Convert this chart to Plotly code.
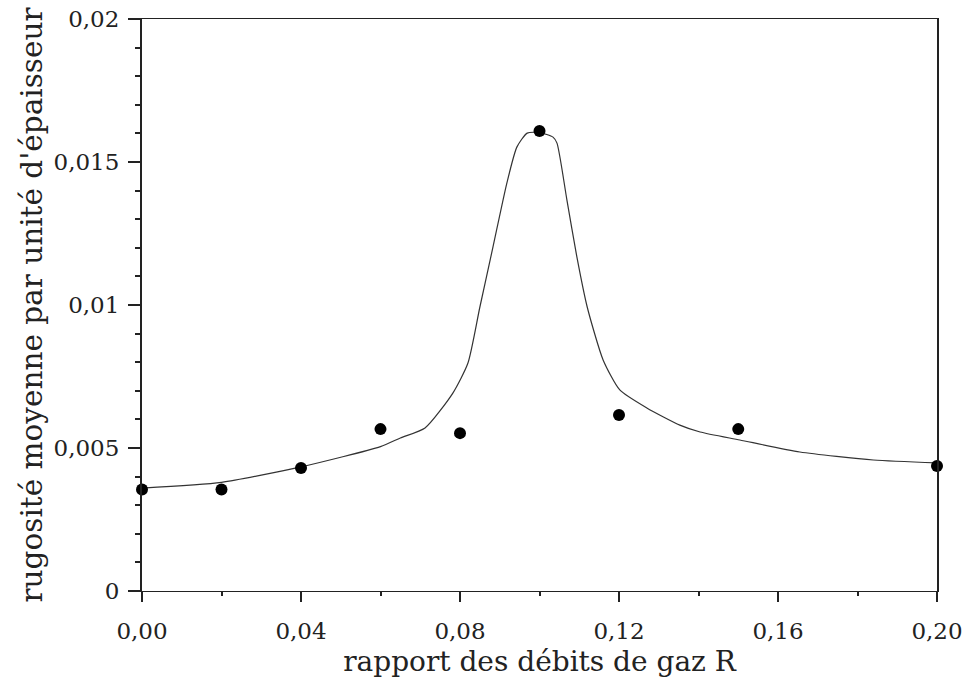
import plotly.graph_objects as go

# measured points
r_meas = [0.00, 0.02, 0.04, 0.06, 0.08, 0.10, 0.12, 0.15, 0.20]
rug_meas = [0.00355, 0.00355, 0.0043, 0.00566, 0.00552, 0.01608, 0.00615, 0.00566, 0.00437]

# fitted curve
r_fit = [0.000, 0.020, 0.040, 0.060, 0.065, 0.0712, 0.0782, 0.082, 0.085, 0.0883,
         0.0918, 0.0943, 0.0969, 0.1001, 0.1034, 0.1044, 0.1069, 0.1094, 0.112,
         0.116, 0.1202, 0.127, 0.1353, 0.1404, 0.1504, 0.1655, 0.184, 0.200]
rug_fit = [0.0036, 0.0038, 0.00434, 0.00505, 0.00535, 0.0057, 0.00692, 0.00797, 0.00993, 0.01203,
           0.01427, 0.01552, 0.01601, 0.01603, 0.01587, 0.01566, 0.01367, 0.01168, 0.00993,
           0.00808, 0.00703, 0.0064, 0.0058, 0.00556, 0.00528, 0.00486, 0.00458, 0.00448]

x_ticks = [0.00, 0.04, 0.08, 0.12, 0.16, 0.20]
x_labels = ["0,00", "0,04", "0,08", "0,12", "0,16", "0,20"]
y_ticks = [0, 0.005, 0.01, 0.015, 0.02]
y_labels = ["0", "0,005", "0,01", "0,015", "0,02"]

font = "DejaVu Serif"

fig = go.Figure()

fig.add_trace(go.Scatter(
    x=r_fit, y=rug_fit, mode="lines",
    line=dict(color="#333333", width=1.2, shape="spline", smoothing=0.6),
    hoverinfo="skip", showlegend=False,
))

fig.add_trace(go.Scatter(
    x=r_meas, y=rug_meas, mode="markers",
    marker=dict(color="black", size=12),
    showlegend=False, cliponaxis=False,
))

fig.update_xaxes(
    range=[0, 0.20], tickvals=x_ticks, ticktext=x_labels, automargin=False,
    showline=True, linecolor="#222222", linewidth=1.2, mirror=True,
    ticks="outside", ticklen=10, tickwidth=1.5, tickcolor="#222222",
    minor=dict(dtick=0.02, ticks="outside", ticklen=4, tickwidth=1.5, tickcolor="#222222"),
    showgrid=False, zeroline=False, ticklabelstandoff=9,
    tickfont=dict(family=font, size=23, color="#222222"),
    title=dict(text="rapport des débits de gaz R", font=dict(family=font, size=28, color="#222222"),
               standoff=8),
)

fig.update_yaxes(
    range=[0, 0.02], tickvals=y_ticks, ticktext=y_labels, automargin=False,
    showline=True, linecolor="#222222", linewidth=2, mirror=True,
    ticks="outside", ticklen=12, tickwidth=1.5, tickcolor="#222222",
    minor=dict(dtick=0.001, ticks="outside", ticklen=5, tickwidth=1.5, tickcolor="#222222"),
    showgrid=False, zeroline=False, ticklabelstandoff=4,
    tickfont=dict(family=font, size=23, color="#222222"),
    title=dict(text="rugosité moyenne par unité d'épaisseur", font=dict(family=font, size=29.5, color="#222222"),
               standoff=2),
)

fig.update_layout(
    width=966, height=691,
    margin=dict(l=142, r=29, t=19, b=100),
    plot_bgcolor="white", paper_bgcolor="white",
)

# drop the default page margin so the figure sits at the window's corner
fig.write_html("out.html", config={"displayModeBar": False},
               post_script="document.body.style.margin='0';")
